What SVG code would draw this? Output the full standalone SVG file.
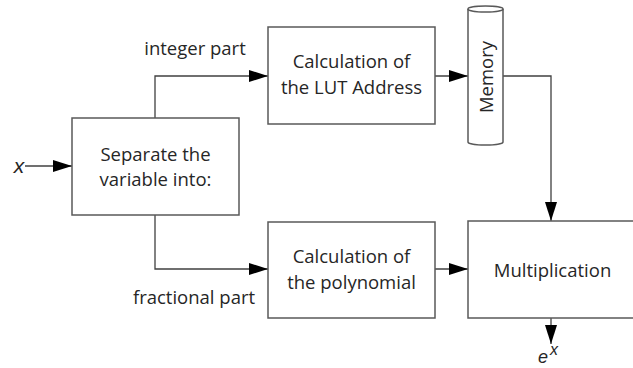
<svg xmlns="http://www.w3.org/2000/svg" width="633" height="368" viewBox="0 0 633 368">
  <style>
    .box { fill: #ffffff; stroke: #595959; stroke-width: 1.5; }
    .wire { fill: none; stroke: #404040; stroke-width: 1.3; }
    .lbl { font-family: "Open Sans", "Liberation Sans", sans-serif; font-size: 18.5px; fill: #262626; text-anchor: middle; }
    .math { font-family: "Liberation Sans", sans-serif; font-style: italic; fill: #262626; }
  </style>
  <defs>
    <marker id="arrow" markerWidth="19" markerHeight="12" refX="19" refY="6" orient="auto" markerUnits="userSpaceOnUse">
      <path d="M0,0 L19,6 L0,12 Z" fill="#000000"/>
    </marker>
  </defs>
  <rect width="633" height="368" fill="#ffffff"/>

  <g id="connectors">
    <path class="wire" d="M25,166 H72" marker-end="url(#arrow)"/>
    <path class="wire" d="M155,118 V76 H268" marker-end="url(#arrow)"/>
    <path class="wire" d="M155,215 V269 H268" marker-end="url(#arrow)"/>
    <path class="wire" d="M435,76 H468" marker-end="url(#arrow)"/>
    <path class="wire" d="M503,76 H551 V221" marker-end="url(#arrow)"/>
    <path class="wire" d="M435,269 H468" marker-end="url(#arrow)"/>
    <path class="wire" d="M551,318 V344" marker-end="url(#arrow)"/>
  </g>

  <g id="input-x">
    <text class="math" x="19" y="173" font-size="21" text-anchor="middle">x</text>
  </g>

  <g id="separate">
    <rect class="box" x="72" y="118" width="167" height="97"/>
    <text class="lbl" x="155.5" y="161">Separate the</text>
    <text class="lbl" x="155.5" y="186">variable into:</text>
  </g>

  <g id="label-integer">
    <text class="lbl" x="195" y="55">integer part</text>
  </g>

  <g id="label-fractional">
    <text class="lbl" x="194" y="304">fractional part</text>
  </g>

  <g id="lut-address">
    <rect class="box" x="268" y="27" width="167" height="97"/>
    <text class="lbl" x="351.5" y="68">Calculation of</text>
    <text class="lbl" x="351.5" y="94">the LUT Address</text>
  </g>

  <g id="polynomial">
    <rect class="box" x="268" y="222" width="167" height="96"/>
    <text class="lbl" x="351.5" y="263">Calculation of</text>
    <text class="lbl" x="351.5" y="289">the polynomial</text>
  </g>

  <g id="memory">
    <path class="box" d="M468,9 V142 A17.5,3 0 0 0 503,142 V9"/>
    <ellipse class="box" cx="485.5" cy="9" rx="17.5" ry="3"/>
    <text class="lbl" transform="translate(493,77) rotate(-90)">Memory</text>
  </g>

  <g id="multiplication">
    <rect class="box" x="468" y="221" width="180" height="97"/>
    <text class="lbl" x="552.5" y="277">Multiplication</text>
  </g>

  <g id="output-ex">
    <text class="math" x="538" y="363" font-size="18">e</text>
    <text class="math" x="550" y="355" font-size="16">x</text>
  </g>
</svg>
